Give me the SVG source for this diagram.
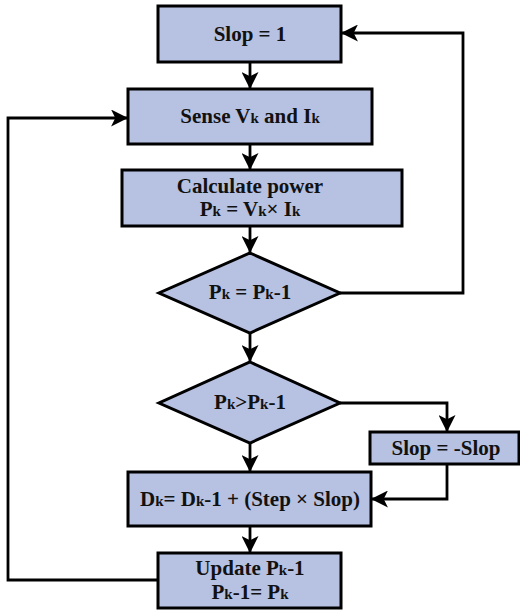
<svg xmlns="http://www.w3.org/2000/svg" width="520" height="612" viewBox="0 0 520 612">
  <style>
    .box { fill: #B7C1E1; stroke: #000; stroke-width: 3; }
    .lbl { font-family: "Liberation Serif", "Times New Roman", serif; font-weight: bold; font-size: 21px; fill: #111; text-anchor: middle; }
    .sub { font-size: 15px; }
    .wire { fill: none; stroke: #000; stroke-width: 2.8; }
  </style>
  <defs>
    <marker id="arrow" markerUnits="userSpaceOnUse" markerWidth="17" markerHeight="17" viewBox="0 0 16 16" refX="15" refY="8" orient="auto">
      <path d="M0,0 L16,8 L0,16 L4,8 Z" fill="#000"/>
    </marker>
  </defs>
  <rect width="520" height="612" fill="#fff"/>

  <g id="connectors">
    <path class="wire" d="M250,62 V88" marker-end="url(#arrow)"/>
    <path class="wire" d="M250,144 V169" marker-end="url(#arrow)"/>
    <path class="wire" d="M250,226 V252" marker-end="url(#arrow)"/>
    <path class="wire" d="M250,333 V361" marker-end="url(#arrow)"/>
    <path class="wire" d="M250,443 V471" marker-end="url(#arrow)"/>
    <path class="wire" d="M250,526 V552" marker-end="url(#arrow)"/>
    <path class="wire" d="M340,293 H463 V33 H342" marker-end="url(#arrow)"/>
    <path class="wire" d="M340,403 H447 V431" marker-end="url(#arrow)"/>
    <path class="wire" d="M447,464 V499 H372" marker-end="url(#arrow)"/>
    <path class="wire" d="M158,580 H8 V118 H127" marker-end="url(#arrow)"/>
  </g>

  <g id="slop-init">
    <rect class="box" x="158" y="6" width="183" height="56"/>
    <text class="lbl" x="250" y="41">Slop = 1</text>
  </g>

  <g id="sense">
    <rect class="box" x="128" y="89" width="244" height="55"/>
    <text class="lbl" x="250" y="123">Sense V<tspan class="sub">k</tspan> and I<tspan class="sub">k</tspan></text>
  </g>

  <g id="calc-power">
    <rect class="box" x="122" y="170" width="280" height="56"/>
    <text class="lbl" x="250" y="193">Calculate power</text>
    <text class="lbl" x="250" y="216">P<tspan class="sub">k</tspan> = V<tspan class="sub">k</tspan>× I<tspan class="sub">k</tspan></text>
  </g>

  <g id="check-equal">
    <polygon class="box" points="250,253 340,293 250,333 159,293"/>
    <text class="lbl" x="250" y="299">P<tspan class="sub">k</tspan> = P<tspan class="sub">k</tspan>-1</text>
  </g>

  <g id="check-greater">
    <polygon class="box" points="250,362 340,403 250,443 159,403"/>
    <text class="lbl" x="250" y="409">P<tspan class="sub">k</tspan>&gt;P<tspan class="sub">k</tspan>-1</text>
  </g>

  <g id="slop-invert">
    <rect class="box" x="370" y="432" width="149" height="32"/>
    <text class="lbl" x="446" y="455">Slop = -Slop</text>
  </g>

  <g id="duty-update">
    <rect class="box" x="128" y="472" width="243" height="54"/>
    <text class="lbl" x="250" y="506">D<tspan class="sub">k</tspan>= D<tspan class="sub">k</tspan>-1 + (Step × Slop)</text>
  </g>

  <g id="update-prev">
    <rect class="box" x="158" y="553" width="183" height="55"/>
    <text class="lbl" x="250" y="575">Update P<tspan class="sub">k</tspan>-1</text>
    <text class="lbl" x="250" y="599">P<tspan class="sub">k</tspan>-1= P<tspan class="sub">k</tspan></text>
  </g>
</svg>
